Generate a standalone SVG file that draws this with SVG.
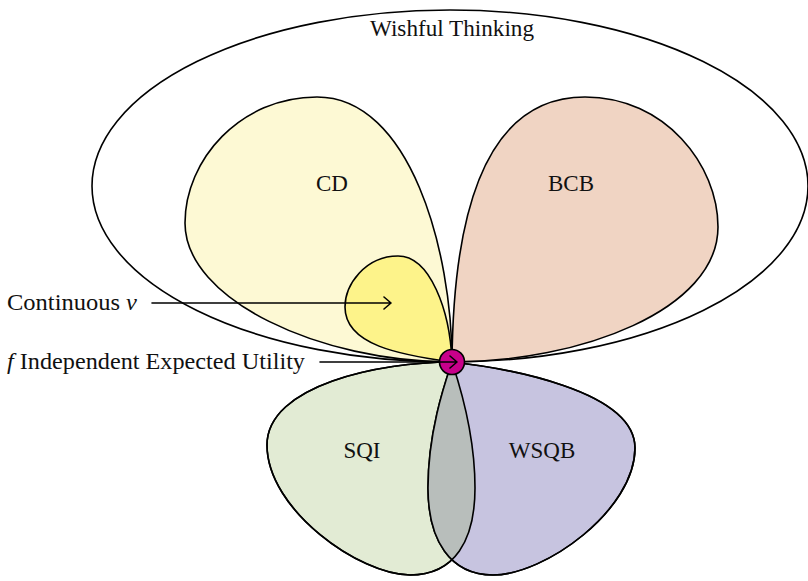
<svg xmlns="http://www.w3.org/2000/svg" width="808" height="581" viewBox="0 0 808 581">
<style>
.o{stroke:#000;stroke-width:1.6;stroke-linejoin:round}
.t{font-family:"Liberation Serif","Times New Roman",serif;font-size:23px;fill:#111}
.c{text-anchor:middle}
.a{fill:none;stroke:#000;stroke-width:1.6;stroke-linecap:round;stroke-linejoin:round}
</style>
<defs>
<path id="sqiP" d="M 452 362 C 380 362, 267 385, 267 445 C 267 510, 360 575, 410 575 C 455 575, 475 540, 475 488 C 475 430, 458 380, 452 362 Z"/>
<path id="wsqbP" d="M 452 362 C 505 368, 635 390, 635 448 C 635 510, 545 575, 493 575 C 450 575, 428 540, 428 488 C 428 430, 446 380, 452 362 Z"/>
<clipPath id="sqiClip"><use href="#sqiP"/></clipPath>
</defs>
<g id="wishful">
<ellipse cx="450" cy="186" rx="358" ry="176" fill="none" class="o"/>
<text class="t" x="370" y="36" textLength="164" lengthAdjust="spacingAndGlyphs">Wishful Thinking</text>
</g>
<g id="cd">
<path class="o" fill="#fdf9d4" d="M 452 362 C 452 250, 410 97, 317 97 C 240 97, 185 160, 185 223 C 185 300, 320 362, 452 362 Z"/>
<text class="t c" x="332" y="191">CD</text>
</g>
<g id="bcb">
<path class="o" fill="#f0d4c3" d="M 452 362 C 453 240, 475 97, 585 97 C 665 97, 718 165, 718 227 C 718 310, 580 362, 452 362 Z"/>
<text class="t c" x="571" y="191">BCB</text>
</g>
<g id="continuous">
<path class="o" fill="#fdf38a" d="M 452 362 C 450 310, 430 256, 398 256 C 365 256, 345 285, 345 307 C 345 345, 400 355, 452 362 Z"/>
</g>
<g id="sqi">
<use href="#sqiP" class="o" fill="#e2ebd4"/>
<text class="t c" x="362" y="458">SQI</text>
</g>
<g id="wsqb">
<use href="#wsqbP" class="o" fill="#c7c4e0"/>
<use href="#wsqbP" fill="#b8bebb" clip-path="url(#sqiClip)"/>
<use href="#sqiP" class="o" fill="none"/>
<use href="#wsqbP" class="o" fill="none"/>
<text class="t c" x="542" y="458">WSQB</text>
</g>
<g id="eu">
<circle cx="452" cy="362" r="12.5" fill="#c8008a" class="o"/>
</g>
<g id="labels">
<text class="t" x="7" y="310" textLength="130" lengthAdjust="spacingAndGlyphs">Continuous <tspan font-style="italic">v</tspan></text>
<text class="t" x="7" y="369" textLength="298" lengthAdjust="spacingAndGlyphs"><tspan font-style="italic">f</tspan> Independent Expected Utility</text>
</g>
<g id="connectors">
<path class="a" d="M 152 303 H 390 M 384 297 L 391 303 L 384 309"/>
<path class="a" d="M 320 362 H 457 M 450 356 L 457 362 L 450 368"/>
</g>
</svg>
